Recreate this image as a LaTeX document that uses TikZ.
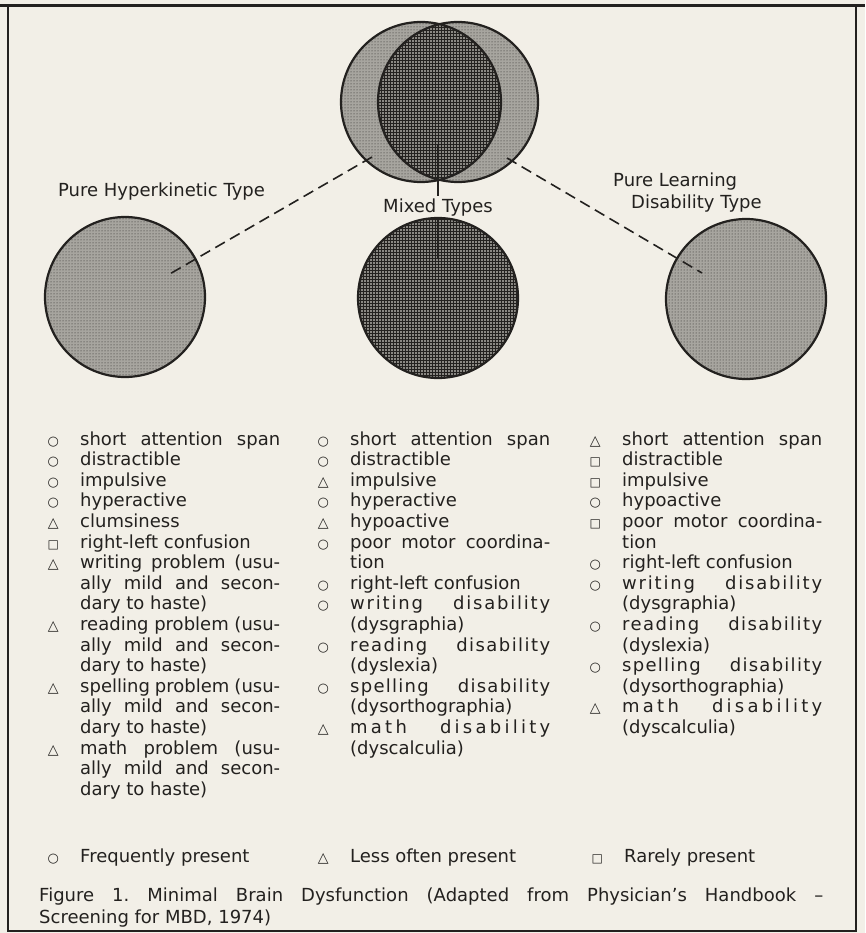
\documentclass[tikz,border=0pt]{standalone}
\usepackage{fontspec}
\setmainfont{DejaVu Sans}
\usepackage{array}
\usetikzlibrary{patterns}
\frenchspacing

\definecolor{paper}{RGB}{242,239,231}
\definecolor{ink}{RGB}{35,33,31}
\colorlet{dotbase}{ink!36!paper}
\colorlet{gridbase}{ink!50!paper}

\newlength\colw
\setlength\colw{200pt}
\newcommand\symF{\raisebox{0pt}{\fontsize{13}{10}\selectfont ○}}
\newcommand\symL{\raisebox{0pt}{\fontsize{14}{10}\selectfont △}}
\newcommand\symR{\raisebox{0pt}{\fontsize{12}{10}\selectfont □}}
\newcommand\jl[1]{\makebox[\colw][s]{#1}}
\newcommand\lsjl[2]{\makebox[\colw][s]{\addfontfeature{LetterSpace=#1}#2}}
\newenvironment{symlist}{\begin{tabular}[t]{@{}w{c}{14pt}@{\hspace{20pt}}l@{}}}{\end{tabular}}

\tikzset{
    list/.style={font=\fontsize{18}{20.6}\selectfont, inner sep=0pt, anchor=base west},
    typename/.style={font=\fontsize{18}{21}\selectfont, inner sep=0pt},
    dotfill/.style={fill=dotbase, postaction={pattern=dots, pattern color=ink}},
    gridfill/.style={fill=gridbase, postaction={pattern=grid, pattern color=ink}},
    rim/.style={line width=2.2pt},
    dashline/.style={line width=1.6pt, dash pattern=on 11pt off 6pt},
}

\begin{document}
\begin{tikzpicture}[x=1pt, y=-1pt, color=ink]
            \fill[paper] (0,0) rectangle (865,933);
            \useasboundingbox (0,0) rectangle (865,933);

            \coordinate (TL) at (421,102);
            \coordinate (TR) at (458,102);
            \coordinate (HK) at (125,297);
            \coordinate (MX) at (438,298);
            \coordinate (LD) at (746,299);

            \fill[dotfill] (TL) circle[radius=80pt];
            \fill[dotfill] (TR) circle[radius=80pt];
            \begin{scope}
                \clip (TL) circle[radius=80pt];
                \fill[gridfill] (TR) circle[radius=80pt];
            \end{scope}
            \draw[rim] (TL) circle[radius=80pt] (TR) circle[radius=80pt];

            \fill[dotfill] (HK) circle[radius=80pt];
            \fill[gridfill] (MX) circle[radius=80pt];
            \fill[dotfill] (LD) circle[radius=80pt];
            \draw[rim] (HK) circle[radius=80pt] (MX) circle[radius=80pt] (LD) circle[radius=80pt];

            \coordinate (hkA) at (372,157);
            \coordinate (hkB) at (168,275);
            \coordinate (ldA) at (507,158);
            \coordinate (ldB) at (702,273);
            \coordinate (mxA) at (438,145);
            \coordinate (mxB) at (438,258);

            \node[typename, anchor=base west] (hkLabel) at (58,197) {Pure Hyperkinetic Type};
            \node[typename, anchor=base, inner sep=2pt] (mixLabel) at (438,212) {Mixed Types};
            \node[typename, anchor=base west] (ldLabel) at (613,187) {\begin{tabular}[t]{@{}l@{}}Pure Learning\\\hspace*{18pt}Disability Type\end{tabular}};

            \draw[dashline] (hkA) -- (hkB);
            \draw[dashline] (ldA) -- (ldB);
            \draw[line width=1.4pt] (mxA) -- (mixLabel.north);
            \draw[line width=1.4pt] (mixLabel.south) -- (mxB);

            \node[list] (hkList) at (46,445) {\begin{symlist}
                \symF & \jl{short attention span}\\
                \symF & distractible\\
                \symF & impulsive\\
                \symF & hyperactive\\
                \symL & clumsiness\\
                \symR & right-left confusion\\
                \symL & \jl{writing problem (usu-}\\
                      & \jl{ally mild and secon-}\\
                      & dary to haste)\\
                \symL & \jl{reading problem (usu-}\\
                      & \jl{ally mild and secon-}\\
                      & dary to haste)\\
                \symL & \jl{spelling problem (usu-}\\
                      & \jl{ally mild and secon-}\\
                      & dary to haste)\\
                \symL & \jl{math problem (usu-}\\
                      & \jl{ally mild and secon-}\\
                      & dary to haste)
            \end{symlist}};

            \node[list] (mixList) at (316,445) {\begin{symlist}
                \symF & \jl{short attention span}\\
                \symF & distractible\\
                \symL & impulsive\\
                \symF & hyperactive\\
                \symL & hypoactive\\
                \symF & \jl{poor motor coordina-}\\
                      & tion\\
                \symF & right-left confusion\\
                \symF & \lsjl{10}{writing disability}\\
                      & (dysgraphia)\\
                \symF & \lsjl{8}{reading disability}\\
                      & (dyslexia)\\
                \symF & \lsjl{7}{spelling disability}\\
                      & (dysorthographia)\\
                \symL & \lsjl{18}{math disability}\\
                      & (dyscalculia)
            \end{symlist}};

            \node[list] (ldList) at (588,445) {\begin{symlist}
                \symL & \jl{short attention span}\\
                \symR & distractible\\
                \symR & impulsive\\
                \symF & hypoactive\\
                \symR & \jl{poor motor coordina-}\\
                      & tion\\
                \symF & right-left confusion\\
                \symF & \lsjl{10}{writing disability}\\
                      & (dysgraphia)\\
                \symF & \lsjl{8}{reading disability}\\
                      & (dyslexia)\\
                \symF & \lsjl{7}{spelling disability}\\
                      & (dysorthographia)\\
                \symL & \lsjl{18}{math disability}\\
                      & (dyscalculia)
            \end{symlist}};

            \node[list] (often) at (46,862) {\begin{symlist}\symF & Frequently present\end{symlist}};
            \node[list] (less) at (316,862) {\begin{symlist}\symL & Less often present\end{symlist}};
            \node[list] (rare) at (590,862) {\begin{symlist}\symR & Rarely present\end{symlist}};

            \node[list, font=\fontsize{18}{22}\selectfont] (caption) at (39,901) {\begin{tabular}[t]{@{}l@{}}
                \makebox[784pt][s]{Figure 1. Minimal Brain Dysfunction (Adapted from Physician’s Handbook --}\\
                Screening for MBD, 1974)
            \end{tabular}};

            \draw[line width=2.2pt] (8,6) rectangle (856,931);
            \draw[line width=3pt] (0,6) -- (865,6);
        \end{tikzpicture}
\end{document}
